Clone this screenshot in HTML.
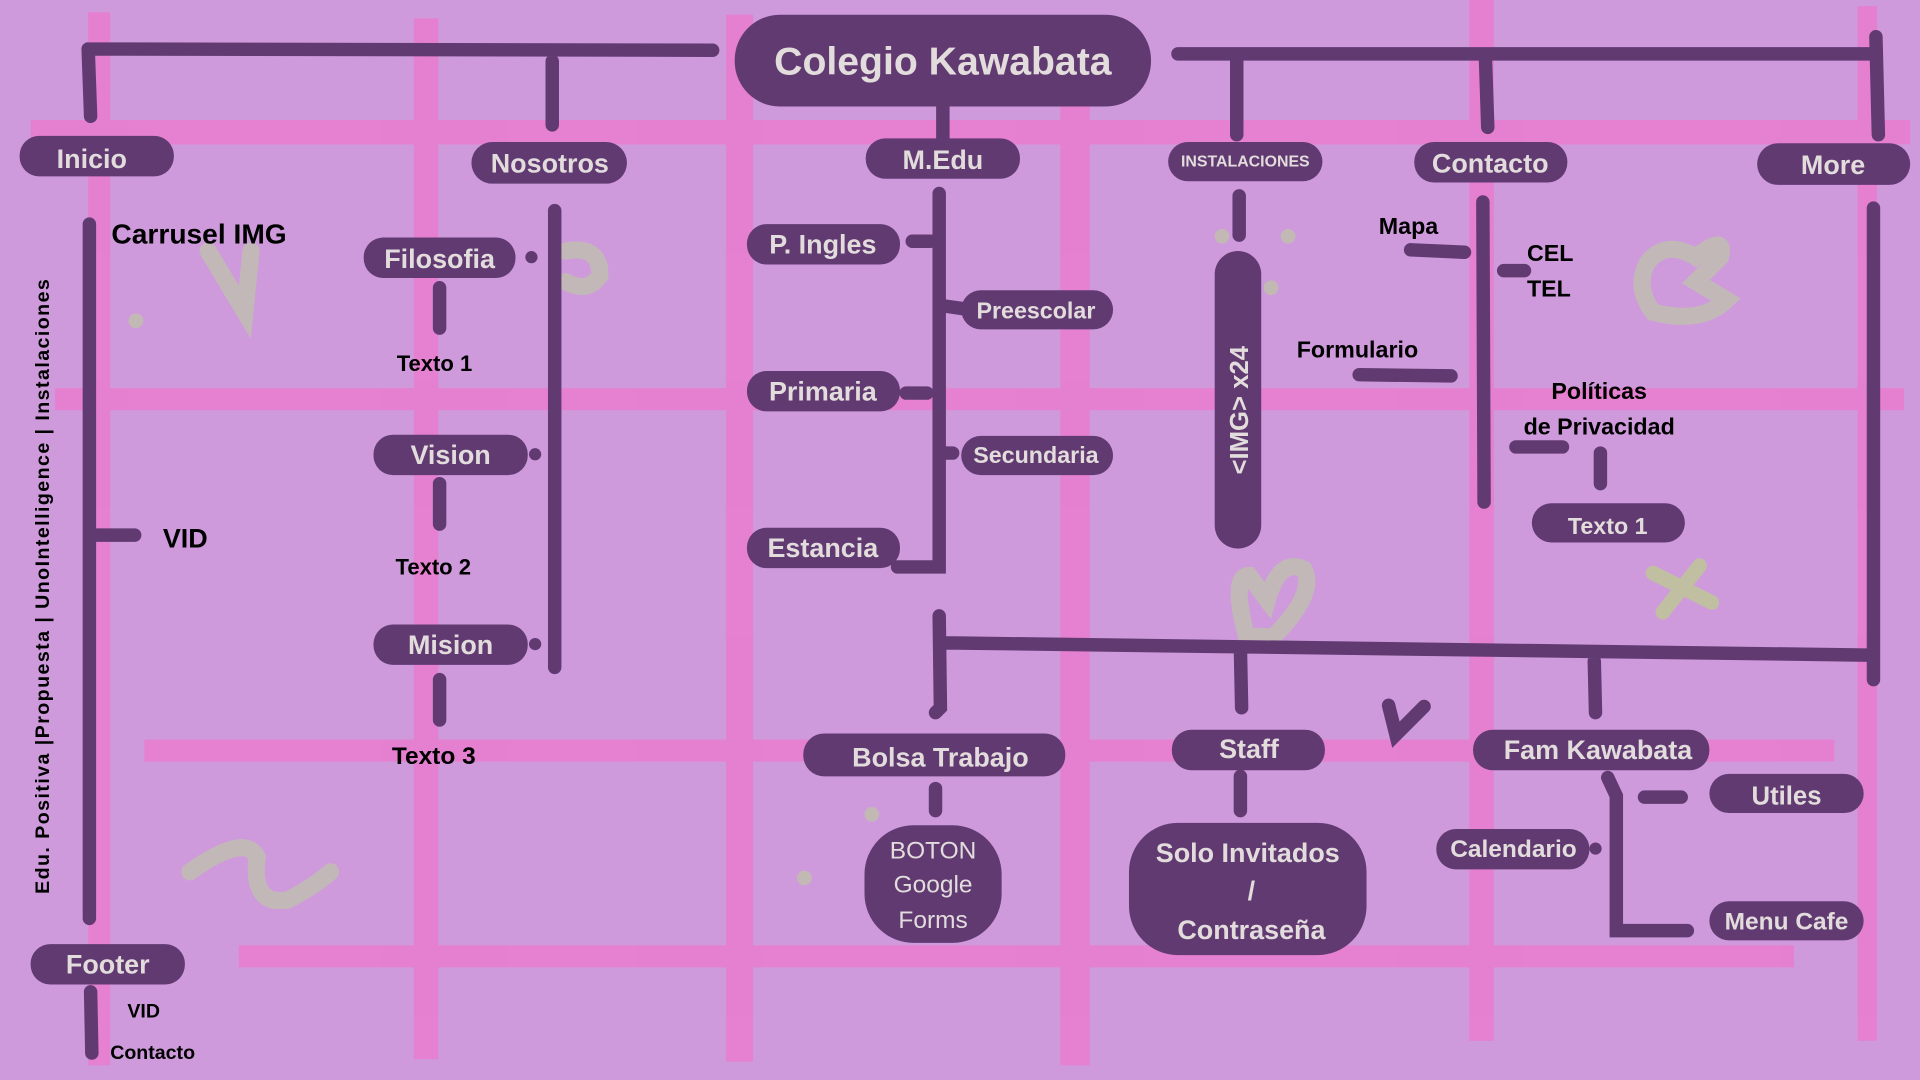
<!DOCTYPE html>
<html><head><meta charset="utf-8"><style>
html,body{margin:0;padding:0;background:#ce9adc;}
svg{display:block}
text{font-family:"Liberation Sans","DejaVu Sans",sans-serif;font-weight:bold}
.w{fill:#e2dcdc}
.b{fill:#000}
</style></head><body>
<svg width="1920" height="1080" viewBox="0 0 1568 882" xmlns="http://www.w3.org/2000/svg">
<rect width="1568" height="882" fill="#ce9adc"/>
<g fill="#ea7ccf" opacity="0.85">
<rect x="72" y="10" width="18" height="860"/>
<rect x="338" y="15" width="20" height="850"/>
<rect x="593" y="12" width="22" height="855"/>
<rect x="866" y="80" width="24" height="790"/>
<rect x="1200" y="0" width="20" height="850"/>
<rect x="1517" y="5" width="16" height="845"/>
<rect x="25" y="98" width="1535" height="20"/>
<rect x="45" y="317" width="1510" height="18"/>
<rect x="118" y="604" width="1380" height="18"/>
<rect x="195" y="772" width="1270" height="18"/>
</g>
<g fill="none" stroke="#c2b9b5" stroke-width="14" stroke-linecap="round" opacity="0.95">
<path d="M170 205 L200 255 L205 205"/>
<path d="M155 712 Q200 680 210 700 Q205 740 235 735 Q255 725 270 712"/>
<path d="M462 205 Q490 200 490 225 Q480 240 462 230"/>
<path d="M1345 215 Q1360 195 1385 210 Q1410 190 1405 210 L1385 230 L1410 245 Q1390 265 1350 255 Q1335 235 1345 215Z"/>
<path d="M1018 520 Q1005 470 1020 470 L1035 490 Q1045 455 1065 465 Q1075 485 1040 520Z"/>
</g>
<g fill="none" stroke="#b9d87a" stroke-width="12" stroke-linecap="round" opacity="0.6">
<path d="M1350 468 L1398 492 M1388 462 L1358 500"/>
</g>
<g fill="#c2b9b5"><circle cx="111" cy="262" r="6"/><circle cx="998" cy="193" r="6"/><circle cx="1052" cy="193" r="6"/><circle cx="1038" cy="235" r="6"/><circle cx="712" cy="665" r="6"/><circle cx="657" cy="717" r="6"/></g>
<g fill="none" stroke="#613a72" stroke-width="11" stroke-linecap="round">
<path d="M72 40 L582 41 M72 40 L74 95 M451 50 L451 102"/>
<path d="M962 44 L1532 44 M1010 44 L1010 110 M1213 44 L1215 104 M1532 30 L1534 110"/>
<path d="M770 85 L770 115"/>
<path d="M73 183 L73 750 M78 437 L110 437"/>
<path d="M453 172 L453 545"/>
<path d="M359 235 L359 268 M359 395 L359 428 M359 555 L359 588"/>
<path d="M767 158 L767 463 L733 463 M745 197 L760 197 M740 321 L757 321 M772 250 L786 252 M772 370 L778 370"/>
<path d="M1012 160 L1012 192"/>
<path d="M1152 204 L1196 206 M1110 306 L1185 307 M1228 221 L1245 221 M1211 165 L1212 410 M1238 365 L1276 365 M1307 370 L1307 395"/>
<path d="M767 503 L768 578 L764 582 M772 525 L1525 535 M1530 170 L1530 555 M1013 530 L1014 578 M1302 540 L1303 582"/>
<path d="M764 644 L764 662 M1013 634 L1013 662"/>
<path d="M1313 635 L1320 650 L1320 760 L1378 760 M1343 651 L1373 651"/>
<path d="M74 810 L75 860"/>
<path d="M1134 576 L1140 600 L1163 577"/>
</g>
<g fill="#613a72">
<circle cx="434" cy="210" r="5"/><circle cx="437" cy="371" r="5"/><circle cx="437" cy="526" r="5"/><circle cx="1303" cy="693" r="5"/>
<rect x="600" y="12" width="340" height="75" rx="37"/>
<rect x="16" y="111" width="126" height="33" rx="16"/>
<rect x="385" y="116" width="127" height="34" rx="17"/>
<rect x="707" y="113" width="126" height="33" rx="16"/>
<rect x="954" y="116" width="126" height="32" rx="16"/>
<rect x="1155" y="116" width="125" height="33" rx="16"/>
<rect x="1435" y="117" width="125" height="34" rx="17"/>
<rect x="297" y="194" width="124" height="33" rx="16"/>
<rect x="305" y="355" width="126" height="33" rx="16"/>
<rect x="305" y="510" width="126" height="33" rx="16"/>
<rect x="610" y="183" width="125" height="33" rx="16"/>
<rect x="610" y="303" width="125" height="33" rx="16"/>
<rect x="610" y="431" width="125" height="33" rx="16"/>
<rect x="785" y="237" width="124" height="32" rx="16"/>
<rect x="785" y="356" width="124" height="32" rx="16"/>
<rect x="992" y="205" width="38" height="243" rx="19"/>
<rect x="1251" y="411" width="125" height="32" rx="16"/>
<rect x="656" y="599" width="214" height="35" rx="17"/>
<rect x="957" y="596" width="125" height="33" rx="16"/>
<rect x="1203" y="596" width="193" height="33" rx="16"/>
<rect x="1396" y="632" width="126" height="32" rx="16"/>
<rect x="1173" y="677" width="125" height="33" rx="16"/>
<rect x="1396" y="736" width="126" height="32" rx="16"/>
<rect x="706" y="674" width="112" height="96" rx="40"/>
<rect x="922" y="672" width="194" height="108" rx="40"/>
<rect x="25" y="771" width="126" height="33" rx="16"/>
</g>
<g class="w" text-anchor="middle">
<text x="770" y="61" font-size="32">Colegio Kawabata</text>
<text x="75" y="137" font-size="22">Inicio</text>
<text x="449" y="141" font-size="22">Nosotros</text>
<text x="770" y="138" font-size="22">M.Edu</text>
<text x="1017" y="136" font-size="13">INSTALACIONES</text>
<text x="1217" y="141" font-size="22">Contacto</text>
<text x="1497" y="142" font-size="22">More</text>
<text x="359" y="219" font-size="22">Filosofia</text>
<text x="368" y="379" font-size="22">Vision</text>
<text x="368" y="534" font-size="22">Mision</text>
<text x="672" y="207" font-size="22">P. Ingles</text>
<text x="672" y="327" font-size="22">Primaria</text>
<text x="672" y="455" font-size="22">Estancia</text>
<text x="846" y="260" font-size="19">Preescolar</text>
<text x="846" y="378" font-size="19">Secundaria</text>
<text x="1313" y="436" font-size="19">Texto 1</text>
<text x="768" y="626" font-size="22">Bolsa Trabajo</text>
<text x="1020" y="619" font-size="22">Staff</text>
<text x="1305" y="620" font-size="22">Fam Kawabata</text>
<text x="1459" y="657" font-size="21">Utiles</text>
<text x="1236" y="700" font-size="20">Calendario</text>
<text x="1459" y="759" font-size="20">Menu Cafe</text>
<text x="762" y="701" font-size="20" style="font-weight:normal">BOTON</text>
<text x="762" y="729" font-size="20" style="font-weight:normal">Google</text>
<text x="762" y="758" font-size="20" style="font-weight:normal">Forms</text>
<text x="1019" y="704" font-size="22">Solo Invitados</text>
<text x="1022" y="735" font-size="22">/</text>
<text x="1022" y="767" font-size="22">Contraseña</text>
<text x="88" y="795" font-size="22">Footer</text>
<text transform="translate(1019 335) rotate(-90)" font-size="21">&lt;IMG&gt;   x24</text>
</g>
<g class="b">
<text x="91" y="199" font-size="23">Carrusel IMG</text>
<text x="133" y="447" font-size="22">VID</text>
<text x="324" y="303" font-size="18">Texto 1</text>
<text x="323" y="469" font-size="18">Texto 2</text>
<text x="320" y="624" font-size="20">Texto 3</text>
<text x="1126" y="191" font-size="19">Mapa</text>
<text x="1247" y="213" font-size="19">CEL</text>
<text x="1247" y="242" font-size="19">TEL</text>
<text x="1059" y="292" font-size="19">Formulario</text>
<text x="1306" y="326" font-size="19" text-anchor="middle">Políticas</text>
<text x="1306" y="355" font-size="19" text-anchor="middle">de Privacidad</text>
<text x="104" y="831" font-size="16">VID</text>
<text x="90" y="865" font-size="16">Contacto</text>
<text transform="translate(40 730) rotate(-90)" font-size="16" textLength="502" lengthAdjust="spacing">Edu. Positiva |Propuesta | UnoIntelligence | Instalaciones</text>
</g>
</svg>
</body></html>
